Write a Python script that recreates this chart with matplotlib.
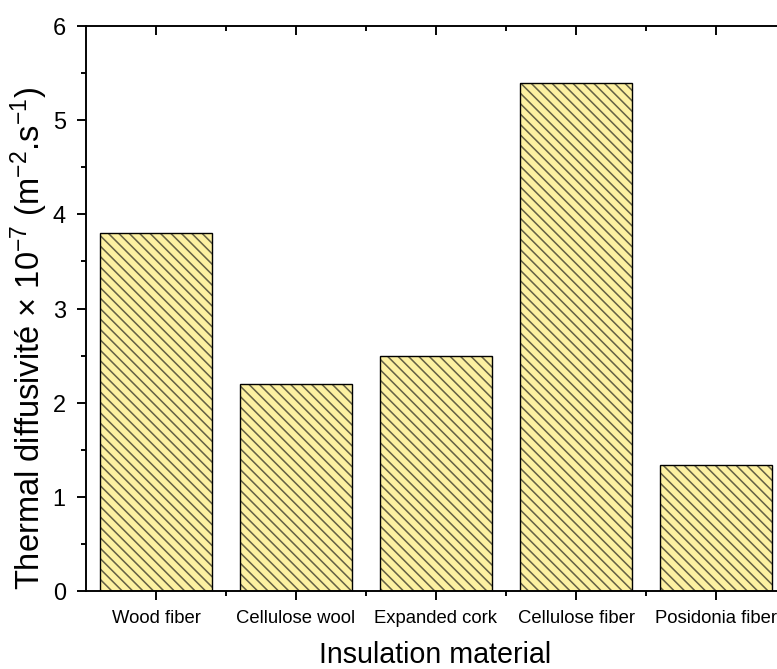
import matplotlib
matplotlib.use("Agg")
import matplotlib.pyplot as plt
from matplotlib.ticker import MultipleLocator, FixedLocator

categories = ["Wood fiber", "Cellulose wool", "Expanded cork", "Cellulose fiber", "Posidonia fiber"]
values = [3.80, 2.20, 2.50, 5.40, 1.34]

plt.rcParams['font.family'] = ['Liberation Sans', 'DejaVu Sans']
plt.rcParams['mathtext.fontset'] = 'custom'
plt.rcParams['mathtext.rm'] = 'Liberation Sans'
plt.rcParams['mathtext.it'] = 'Liberation Sans:italic'
plt.rcParams['hatch.linewidth'] = 0.9

DPI = 125
W, H = 777, 669
fig = plt.figure(figsize=(W / DPI, H / DPI), dpi=DPI)
left, right, top, bottom = 86, 786, 26, 591
ax = fig.add_axes([left / W, (H - bottom) / H, (right - left) / W, (bottom - top) / H])

x = list(range(len(categories)))
ax.bar(x, values, width=0.8, color='#FDF1A2', edgecolor='#666245', linewidth=0, hatch='\\\\\\\\', zorder=2)
ax.bar(x, values, width=0.8, fill=False, edgecolor='black', linewidth=0.8, zorder=3)

ax.set_xlim(-0.5, len(categories) - 0.5)
ax.set_ylim(0, 6)
ax.set_xticks(x)
ax.set_xticklabels(categories, fontsize=10.7)
ax.xaxis.set_minor_locator(FixedLocator([i + 0.5 for i in range(len(categories) - 1)]))
ax.yaxis.set_major_locator(MultipleLocator(1))
ax.yaxis.set_minor_locator(MultipleLocator(0.5))

for s in ax.spines.values():
    s.set_linewidth(1.1)

ax.tick_params(axis='both', which='major', length=5.2, width=1.1)
ax.tick_params(axis='both', which='minor', length=3.0, width=1.1)
ax.tick_params(axis='x', which='both', bottom=True, top=True, pad=5.5)
ax.tick_params(axis='y', which='both', left=True, right=True)
ax.tick_params(axis='y', which='major', labelsize=13.5, pad=6.5)
# bottom/left ticks outward, top/right ticks inward
for t in ax.xaxis.get_major_ticks() + ax.xaxis.get_minor_ticks():
    t.tick1line.set_marker(matplotlib.lines.TICKDOWN)
    t.tick2line.set_marker(matplotlib.lines.TICKDOWN)
for t in ax.yaxis.get_major_ticks() + ax.yaxis.get_minor_ticks():
    t.tick1line.set_marker(matplotlib.lines.TICKLEFT)
    t.tick2line.set_marker(matplotlib.lines.TICKLEFT)

ax.set_xlabel("Insulation material", fontsize=16.5)
ax.xaxis.set_label_coords(0.499, -0.089)
ax.set_ylabel(r"Thermal diffusivité × 10$^{-7}$ (m$^{-2}$.s$^{-1}$)", fontsize=18.8)
ax.yaxis.set_label_coords(-0.051, 0.448)

fig.savefig("out.png", dpi=DPI)
